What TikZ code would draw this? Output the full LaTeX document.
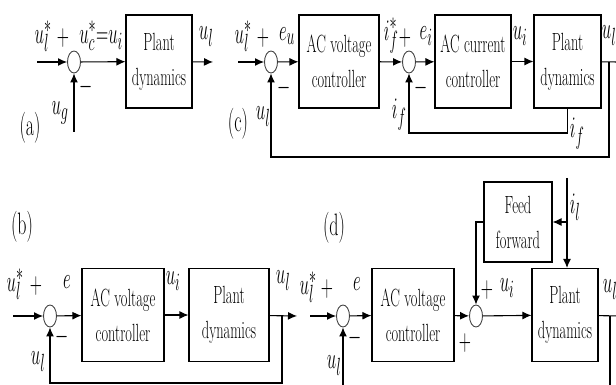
\documentclass[tikz,border=0pt]{standalone}
\usepackage{graphicx}
\usetikzlibrary{arrows.meta,shapes.geometric}
\newcommand{\sq}[1]{\scalebox{0.58}[1]{#1}}
\newcommand{\sm}[1]{\scalebox{0.68}[1.2]{#1}}

\begin{document}
\begin{tikzpicture}[x=1pt,y=-1pt,
 blk/.style={draw,line width=1.1pt,align=center,inner sep=0pt,minimum height=93pt,font={\fontsize{24.88}{35}\selectfont}},
 sumnode/.style={draw=black!75,ellipse,line width=0.9pt,minimum width=13pt,minimum height=22pt,inner sep=0pt},
 lbl/.style={inner sep=0pt,font={\fontsize{24.88}{30}\selectfont}},
 tag/.style={inner sep=0pt,font={\fontsize{31}{34}\selectfont}},
 sig/.style={-{Latex[length=9pt,width=8pt]},line width=1.1pt},
 wire/.style={line width=1.1pt}]

\useasboundingbox (0,0) rectangle (616,385);
\clip (0,0) rectangle (616,385);

\node[sumnode] (sa) at (74,62) {};
\node[blk,minimum width=66pt] (pa) at (159,61.5) {\sq{Plant}\\\sq{dynamics}};
\coordinate (ain) at (37,62);
\coordinate (aout) at (213,62);
\coordinate (ag) at (74,132);
\draw[sig] (ain) -- (sa);
\draw[sig] (sa) -- (pa);
\draw[sig] (pa) -- (aout);
\draw[sig] (ag) -- (sa);

\node[lbl] (la1) at (43,36) {\sm{$u_l^*$}};
\node[lbl] (la2) at (63,38) {\sm{$+$}};
\node[lbl] (la3) at (101,36) {\sm{$u_c^*{=}u_i$}};
\node[lbl] (la4) at (206,37) {\sm{$u_l$}};
\node[lbl] (la5) at (86,87) {\sm{$-$}};
\node[lbl] (la6) at (60,113) {\sm{$u_g$}};
\node[tag] (la7) at (30,128) {\sq{(a)}};

\node[sumnode] (sc1) at (271,62) {};
\node[blk,minimum width=80pt] (vc) at (339,61.5) {\sq{AC voltage}\\\sq{controller}};
\node[sumnode] (sc2) at (409,62) {};
\node[blk,minimum width=76pt] (cc) at (473,61.5) {\sq{AC current}\\\sq{controller}};
\node[blk,minimum width=67pt] (pc) at (567.5,61.5) {\sq{Plant}\\\sq{dynamics}};
\coordinate (cin) at (238,62);
\coordinate (cout) at (620,62);
\coordinate (cfb) at (609,62);
\coordinate (cbot) at (609,157);
\coordinate (cif) at (409,133);
\draw[sig] (cin) -- (sc1);
\draw[sig] (sc1) -- (vc);
\draw[sig] (vc) -- (sc2);
\draw[sig] (sc2) -- (cc);
\draw[sig] (cc) -- (pc);
\draw[wire] (pc) -- (cout);
\draw[sig] (cfb) -- (cbot) -| (sc1);
\draw[sig] (pc.south) |- (cif) -- (sc2);

\node[lbl] (lc1) at (243,36) {\sm{$u_l^*$}};
\node[lbl] (lc2) at (263,38) {\sm{$+$}};
\node[lbl] (lc3) at (287,36) {\sm{$e_u$}};
\node[lbl] (lc4) at (391,36) {\sm{$i_f^*$}};
\node[lbl] (lc5) at (405,38) {\sm{$+$}};
\node[lbl] (lc6) at (426,36) {\sm{$e_i$}};
\node[lbl] (lc7) at (520,36) {\sm{$u_i$}};
\node[lbl] (lc8) at (609,36) {\sm{$u_l$}};
\node[lbl] (lc9) at (284,88) {\sm{$-$}};
\node[lbl] (lc10) at (421,88) {\sm{$-$}};
\node[lbl] (lc11) at (263,117) {\sm{$u_l$}};
\node[tag] (lc12) at (238,124) {\sq{(c)}};
\node[lbl] (lc13) at (399,115) {\sm{$i_f$}};
\node[lbl] (lc14) at (577,134) {\sm{$i_f$}};

\node[sumnode] (sb) at (50,316) {};
\node[blk,minimum width=82pt] (vb) at (123,315) {\sq{AC voltage}\\\sq{controller}};
\node[blk,minimum width=80pt] (pb) at (229,315) {\sq{Plant}\\\sq{dynamics}};
\coordinate (bin) at (13,316);
\coordinate (bout) at (297,316);
\coordinate (bfb) at (282,316);
\coordinate (bbot) at (282,383);
\draw[sig] (bin) -- (sb);
\draw[sig] (sb) -- (vb);
\draw[sig] (vb) -- (pb);
\draw[sig] (pb) -- (bout);
\draw[sig] (bfb) -- (bbot) -| (sb);

\node[lbl] (lb1) at (15,284) {\sm{$u_l^*$}};
\node[lbl] (lb2) at (36,286) {\sm{$+$}};
\node[lbl] (lb3) at (67,282) {\sm{$e$}};
\node[lbl] (lb4) at (173,281) {\sm{$u_i$}};
\node[lbl] (lb5) at (283,281) {\sm{$u_l$}};
\node[lbl] (lb6) at (62,337) {\sm{$-$}};
\node[lbl] (lb7) at (38,362) {\sm{$u_l$}};
\node[tag] (lb8) at (22,227) {\sq{(b)}};

\node[sumnode] (sd1) at (343,316) {};
\node[blk,minimum width=82pt] (vd) at (413,315) {\sq{AC voltage}\\\sq{controller}};
\node[sumnode] (sd2) at (476,316) {};
\node[blk,minimum width=66pt] (pd) at (565,315) {\sq{Plant}\\\sq{dynamics}};
\node[blk,minimum width=68pt,minimum height=80pt] (ff) at (518,222) {\sq{Feed}\\\sq{forward}};
\coordinate (din) at (310,316);
\coordinate (dout) at (620,316);
\coordinate (dfb) at (610,316);
\coordinate (dbot) at (610,400);
\coordinate (dil) at (567,178);
\coordinate (dbr) at (567,222);
\draw[sig] (din) -- (sd1);
\draw[sig] (sd1) -- (vd);
\draw[sig] (vd) -- (sd2);
\draw[sig] (sd2) -- (pd);
\draw[wire] (pd) -- (dout);
\draw[sig] (dfb) -- (dbot) -| (sd1);
\draw[sig] (dil) -- (dil |- pd.north);
\draw[sig] (dbr) -- (ff);
\draw[sig] (ff) -| (sd2);

\node[lbl] (ld1) at (308,287) {\sm{$u_l^*$}};
\node[lbl] (ld2) at (327,289) {\sm{$+$}};
\node[lbl] (ld3) at (357,284) {\sm{$e$}};
\node[lbl] (ld4) at (487,290) {\sm{$+$}};
\node[lbl] (ld5) at (507,288) {\sm{$u_i$}};
\node[lbl] (ld6) at (610,290) {\sm{$u_l$}};
\node[lbl] (ld7) at (465,343) {\sm{$+$}};
\node[lbl] (ld8) at (355,338) {\sm{$-$}};
\node[lbl] (ld9) at (334,366) {\sm{$u_l$}};
\node[tag] (ld10) at (334,228) {\sq{(d)}};
\node[lbl] (ld11) at (575,207) {\sm{$i_l$}};

\end{tikzpicture}
\end{document}
